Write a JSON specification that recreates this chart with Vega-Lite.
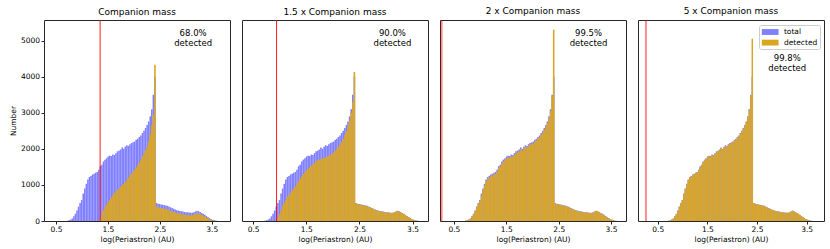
{
"$schema": "https://vega.github.io/schema/vega-lite/v6.json",
"autosize": {"type": "pad"},
"padding": {"left": 8, "top": 6, "right": 5, "bottom": 5},
"background": "white",
"bounds": "flush",
"spacing": 12,
"resolve": {"scale": {"color": "independent"}, "legend": {"color": "independent"}},
"config": {
  "font": "DejaVu Sans",
  "view": {"stroke": "#262626", "strokeWidth": 1},
  "axis": {"labelFont": "DejaVu Sans", "labelFontSize": 7.5, "labelColor": "#000", "titleFont": "DejaVu Sans", "titleFontSize": 7.5, "titleFontWeight": "normal", "titleColor": "#000", "domain": false, "grid": false, "tickColor": "#262626", "tickSize": 3, "labelPadding": 1.5},
  "title": {"font": "DejaVu Sans", "fontSize": 9, "fontWeight": "normal", "color": "#000", "offset": 3},
  "legend": {"labelFont": "DejaVu Sans", "labelFontSize": 7.5, "labelColor": "#000"}
},
"datasets": {"hist": [
{"x0":0.71,"x1":0.74,"total":10,"d1":0,"d2":0,"d3":8,"d4":10},
{"x0":0.74,"x1":0.77,"total":20,"d1":0,"d2":0,"d3":18,"d4":20},
{"x0":0.77,"x1":0.80,"total":40,"d1":0,"d2":0,"d3":36,"d4":39},
{"x0":0.80,"x1":0.83,"total":70,"d1":0,"d2":0,"d3":64,"d4":69},
{"x0":0.83,"x1":0.86,"total":130,"d1":0,"d2":0,"d3":120,"d4":128},
{"x0":0.86,"x1":0.89,"total":200,"d1":0,"d2":0,"d3":185,"d4":197},
{"x0":0.89,"x1":0.92,"total":290,"d1":0,"d2":0,"d3":270,"d4":286},
{"x0":0.92,"x1":0.95,"total":400,"d1":0,"d2":0,"d3":375,"d4":395},
{"x0":0.95,"x1":0.98,"total":500,"d1":0,"d2":60,"d3":470,"d4":494},
{"x0":0.98,"x1":1.01,"total":580,"d1":0,"d2":180,"d3":550,"d4":573},
{"x0":1.01,"x1":1.04,"total":760,"d1":0,"d2":300,"d3":720,"d4":750},
{"x0":1.04,"x1":1.07,"total":900,"d1":0,"d2":420,"d3":860,"d4":890},
{"x0":1.07,"x1":1.10,"total":1030,"d1":0,"d2":500,"d3":980,"d4":1018},
{"x0":1.10,"x1":1.13,"total":1150,"d1":0,"d2":580,"d3":1100,"d4":1137},
{"x0":1.13,"x1":1.16,"total":1220,"d1":0,"d2":680,"d3":1170,"d4":1206},
{"x0":1.16,"x1":1.19,"total":1250,"d1":0,"d2":720,"d3":1200,"d4":1236},
{"x0":1.19,"x1":1.22,"total":1290,"d1":0,"d2":780,"d3":1240,"d4":1276},
{"x0":1.22,"x1":1.25,"total":1310,"d1":0,"d2":850,"d3":1260,"d4":1296},
{"x0":1.25,"x1":1.28,"total":1340,"d1":0,"d2":900,"d3":1290,"d4":1326},
{"x0":1.28,"x1":1.31,"total":1360,"d1":0,"d2":960,"d3":1310,"d4":1346},
{"x0":1.31,"x1":1.34,"total":1420,"d1":0,"d2":1040,"d3":1370,"d4":1405},
{"x0":1.34,"x1":1.37,"total":1520,"d1":40,"d2":1100,"d3":1470,"d4":1504},
{"x0":1.37,"x1":1.40,"total":1560,"d1":150,"d2":1170,"d3":1510,"d4":1544},
{"x0":1.40,"x1":1.43,"total":1650,"d1":300,"d2":1230,"d3":1600,"d4":1633},
{"x0":1.43,"x1":1.46,"total":1700,"d1":380,"d2":1300,"d3":1650,"d4":1683},
{"x0":1.46,"x1":1.49,"total":1740,"d1":450,"d2":1360,"d3":1690,"d4":1722},
{"x0":1.49,"x1":1.52,"total":1790,"d1":520,"d2":1400,"d3":1740,"d4":1772},
{"x0":1.52,"x1":1.55,"total":1810,"d1":580,"d2":1450,"d3":1760,"d4":1792},
{"x0":1.55,"x1":1.58,"total":1800,"d1":650,"d2":1490,"d3":1750,"d4":1782},
{"x0":1.58,"x1":1.61,"total":1840,"d1":720,"d2":1540,"d3":1790,"d4":1822},
{"x0":1.61,"x1":1.64,"total":1830,"d1":770,"d2":1570,"d3":1780,"d4":1812},
{"x0":1.64,"x1":1.67,"total":1880,"d1":820,"d2":1610,"d3":1830,"d4":1862},
{"x0":1.67,"x1":1.70,"total":1930,"d1":870,"d2":1660,"d3":1880,"d4":1911},
{"x0":1.70,"x1":1.73,"total":1950,"d1":900,"d2":1680,"d3":1900,"d4":1931},
{"x0":1.73,"x1":1.76,"total":1980,"d1":950,"d2":1700,"d3":1930,"d4":1961},
{"x0":1.76,"x1":1.79,"total":2040,"d1":990,"d2":1720,"d3":1990,"d4":2020},
{"x0":1.79,"x1":1.82,"total":2000,"d1":1030,"d2":1730,"d3":1950,"d4":1980},
{"x0":1.82,"x1":1.85,"total":2060,"d1":1080,"d2":1740,"d3":2010,"d4":2040},
{"x0":1.85,"x1":1.88,"total":2100,"d1":1140,"d2":1760,"d3":2050,"d4":2080},
{"x0":1.88,"x1":1.91,"total":2080,"d1":1200,"d2":1790,"d3":2030,"d4":2060},
{"x0":1.91,"x1":1.94,"total":2130,"d1":1260,"d2":1810,"d3":2080,"d4":2110},
{"x0":1.94,"x1":1.97,"total":2160,"d1":1320,"d2":1830,"d3":2110,"d4":2140},
{"x0":1.97,"x1":2.00,"total":2180,"d1":1380,"d2":1860,"d3":2130,"d4":2160},
{"x0":2.00,"x1":2.03,"total":2200,"d1":1420,"d2":1900,"d3":2150,"d4":2180},
{"x0":2.03,"x1":2.06,"total":2250,"d1":1480,"d2":1950,"d3":2200,"d4":2230},
{"x0":2.06,"x1":2.09,"total":2280,"d1":1550,"d2":2000,"d3":2230,"d4":2260},
{"x0":2.09,"x1":2.12,"total":2330,"d1":1620,"d2":2060,"d3":2280,"d4":2310},
{"x0":2.12,"x1":2.15,"total":2370,"d1":1700,"d2":2120,"d3":2320,"d4":2350},
{"x0":2.15,"x1":2.18,"total":2440,"d1":1800,"d2":2190,"d3":2390,"d4":2420},
{"x0":2.18,"x1":2.21,"total":2500,"d1":1880,"d2":2270,"d3":2450,"d4":2480},
{"x0":2.21,"x1":2.24,"total":2580,"d1":1960,"d2":2380,"d3":2530,"d4":2560},
{"x0":2.24,"x1":2.27,"total":2660,"d1":2060,"d2":2480,"d3":2610,"d4":2640},
{"x0":2.27,"x1":2.30,"total":2760,"d1":2200,"d2":2620,"d3":2710,"d4":2740},
{"x0":2.30,"x1":2.33,"total":2900,"d1":2400,"d2":2780,"d3":2850,"d4":2880},
{"x0":2.33,"x1":2.36,"total":3100,"d1":2650,"d2":3000,"d3":3050,"d4":3080},
{"x0":2.36,"x1":2.39,"total":3500,"d1":2950,"d2":3300,"d3":3450,"d4":3480},
{"x0":2.39,"x1":2.42,"total":4000,"d1":4330,"d2":4130,"d3":5300,"d4":5050},
{"x0":2.42,"x1":2.45,"total":500,"d1":400,"d2":490,"d3":490,"d4":495},
{"x0":2.45,"x1":2.48,"total":480,"d1":380,"d2":470,"d3":470,"d4":476},
{"x0":2.48,"x1":2.51,"total":470,"d1":370,"d2":460,"d3":460,"d4":466},
{"x0":2.51,"x1":2.54,"total":460,"d1":360,"d2":450,"d3":450,"d4":456},
{"x0":2.54,"x1":2.57,"total":450,"d1":350,"d2":440,"d3":440,"d4":446},
{"x0":2.57,"x1":2.60,"total":440,"d1":340,"d2":430,"d3":430,"d4":436},
{"x0":2.60,"x1":2.63,"total":430,"d1":330,"d2":420,"d3":420,"d4":426},
{"x0":2.63,"x1":2.66,"total":420,"d1":320,"d2":410,"d3":410,"d4":416},
{"x0":2.66,"x1":2.69,"total":400,"d1":300,"d2":390,"d3":390,"d4":396},
{"x0":2.69,"x1":2.72,"total":380,"d1":280,"d2":370,"d3":370,"d4":376},
{"x0":2.72,"x1":2.75,"total":360,"d1":265,"d2":350,"d3":350,"d4":356},
{"x0":2.75,"x1":2.78,"total":340,"d1":250,"d2":330,"d3":330,"d4":336},
{"x0":2.78,"x1":2.81,"total":320,"d1":235,"d2":310,"d3":310,"d4":316},
{"x0":2.81,"x1":2.84,"total":300,"d1":220,"d2":290,"d3":290,"d4":296},
{"x0":2.84,"x1":2.87,"total":290,"d1":210,"d2":280,"d3":280,"d4":286},
{"x0":2.87,"x1":2.90,"total":280,"d1":200,"d2":270,"d3":270,"d4":276},
{"x0":2.90,"x1":2.93,"total":270,"d1":190,"d2":260,"d3":260,"d4":266},
{"x0":2.93,"x1":2.96,"total":260,"d1":180,"d2":250,"d3":250,"d4":256},
{"x0":2.96,"x1":2.99,"total":250,"d1":170,"d2":240,"d3":240,"d4":246},
{"x0":2.99,"x1":3.02,"total":240,"d1":165,"d2":232,"d3":232,"d4":237},
{"x0":3.02,"x1":3.05,"total":240,"d1":160,"d2":232,"d3":232,"d4":237},
{"x0":3.05,"x1":3.08,"total":235,"d1":160,"d2":228,"d3":228,"d4":232},
{"x0":3.08,"x1":3.11,"total":230,"d1":155,"d2":222,"d3":222,"d4":227},
{"x0":3.11,"x1":3.14,"total":230,"d1":160,"d2":222,"d3":222,"d4":227},
{"x0":3.14,"x1":3.17,"total":240,"d1":170,"d2":232,"d3":232,"d4":237},
{"x0":3.17,"x1":3.20,"total":265,"d1":200,"d2":258,"d3":258,"d4":262},
{"x0":3.20,"x1":3.23,"total":285,"d1":225,"d2":278,"d3":278,"d4":282},
{"x0":3.23,"x1":3.26,"total":270,"d1":210,"d2":262,"d3":262,"d4":267},
{"x0":3.26,"x1":3.29,"total":250,"d1":190,"d2":242,"d3":242,"d4":247},
{"x0":3.29,"x1":3.32,"total":220,"d1":170,"d2":212,"d3":212,"d4":217},
{"x0":3.32,"x1":3.35,"total":200,"d1":150,"d2":192,"d3":192,"d4":197},
{"x0":3.35,"x1":3.38,"total":170,"d1":125,"d2":162,"d3":162,"d4":167},
{"x0":3.38,"x1":3.41,"total":140,"d1":100,"d2":132,"d3":132,"d4":137},
{"x0":3.41,"x1":3.44,"total":110,"d1":80,"d2":104,"d3":104,"d4":108},
{"x0":3.44,"x1":3.47,"total":80,"d1":55,"d2":75,"d3":75,"d4":78},
{"x0":3.47,"x1":3.50,"total":55,"d1":35,"d2":50,"d3":50,"d4":53},
{"x0":3.50,"x1":3.53,"total":35,"d1":20,"d2":32,"d3":32,"d4":34},
{"x0":3.53,"x1":3.56,"total":20,"d1":10,"d2":18,"d3":18,"d4":19},
{"x0":3.56,"x1":3.59,"total":10,"d1":4,"d2":8,"d3":8,"d4":9},
{"x0":3.59,"x1":3.62,"total":4,"d1":0,"d2":3,"d3":3,"d4":3}
]},
"hconcat": [
{
  "width": 186, "height": 201,
  "title": "Companion mass",
  "layer": [
    {"data": {"name": "hist"}, "mark": {"type": "bar", "color": "#8080ff", "clip": true},
     "encoding": {
       "x": {"field": "x0", "type": "quantitative", "scale": {"domain": [0.27, 3.85], "nice": false, "zero": false}, "axis": {"values": [0.5,1,1.5,2,2.5,3,3.5], "format": ".1f", "title": "log(Periastron) (AU)", "titlePadding": 2}},
       "x2": {"field": "x1"},
       "y": {"field": "total", "type": "quantitative", "scale": {"domain": [0, 5570], "nice": false}, "axis": {"values": [0,1000,2000,3000,4000,5000], "format": "d", "title": "Number", "titlePadding": 3}},
       "y2": {"datum": 0}}},
    {"data": {"name": "hist"}, "mark": {"type": "bar", "color": "#DAA520", "clip": true},
     "encoding": {
       "x": {"field": "x0", "type": "quantitative"},
       "x2": {"field": "x1"},
       "y": {"field": "d1", "type": "quantitative"},
       "y2": {"datum": 0}}},
    {"data": {"values": [{"cut": 1.35}]}, "mark": {"type": "rule", "color": "#ff0000", "strokeWidth": 0.9},
     "encoding": {"x": {"field": "cut", "type": "quantitative"}}},
    {"data": {"values": [{"label": ["68.0%", "detected"]}]}, "mark": {"type": "text", "fontSize": 8.5, "align": "center", "baseline": "middle", "lineHeight": 10, "font": "DejaVu Sans"},
     "encoding": {"x": {"datum": 3.14, "type": "quantitative"}, "y": {"datum": 5200, "type": "quantitative"}, "text": {"field": "label"}}}
  ]
},
{
  "width": 186, "height": 201,
  "title": "1.5 x Companion mass",
  "layer": [
    {"data": {"name": "hist"}, "mark": {"type": "bar", "color": "#8080ff", "clip": true},
     "encoding": {
       "x": {"field": "x0", "type": "quantitative", "scale": {"domain": [0.29, 3.79], "nice": false, "zero": false}, "axis": {"values": [0.5,1,1.5,2,2.5,3,3.5], "format": ".1f", "title": "log(Periastron) (AU)", "titlePadding": 2}},
       "x2": {"field": "x1"},
       "y": {"field": "total", "type": "quantitative", "scale": {"domain": [0, 5570], "nice": false}, "axis": null},
       "y2": {"datum": 0}}},
    {"data": {"name": "hist"}, "mark": {"type": "bar", "color": "#DAA520", "clip": true},
     "encoding": {
       "x": {"field": "x0", "type": "quantitative"},
       "x2": {"field": "x1"},
       "y": {"field": "d2", "type": "quantitative"},
       "y2": {"datum": 0}}},
    {"data": {"values": [{"cut": 0.94}]}, "mark": {"type": "rule", "color": "#ff0000", "strokeWidth": 0.9},
     "encoding": {"x": {"field": "cut", "type": "quantitative"}}},
    {"data": {"values": [{"label": ["90.0%", "detected"]}]}, "mark": {"type": "text", "fontSize": 8.5, "align": "center", "baseline": "middle", "lineHeight": 10, "font": "DejaVu Sans"},
     "encoding": {"x": {"datum": 3.12, "type": "quantitative"}, "y": {"datum": 5200, "type": "quantitative"}, "text": {"field": "label"}}}
  ]
},
{
  "width": 186, "height": 201,
  "title": "2 x Companion mass",
  "layer": [
    {"data": {"name": "hist"}, "mark": {"type": "bar", "color": "#8080ff", "clip": true},
     "encoding": {
       "x": {"field": "x0", "type": "quantitative", "scale": {"domain": [0.234, 3.785], "nice": false, "zero": false}, "axis": {"values": [0.5,1,1.5,2,2.5,3,3.5], "format": ".1f", "title": "log(Periastron) (AU)", "titlePadding": 2}},
       "x2": {"field": "x1"},
       "y": {"field": "total", "type": "quantitative", "scale": {"domain": [0, 5570], "nice": false}, "axis": null},
       "y2": {"datum": 0}}},
    {"data": {"name": "hist"}, "mark": {"type": "bar", "color": "#DAA520", "clip": true},
     "encoding": {
       "x": {"field": "x0", "type": "quantitative"},
       "x2": {"field": "x1"},
       "y": {"field": "d3", "type": "quantitative"},
       "y2": {"datum": 0}}},
    {"data": {"values": [{"cut": 0.265}]}, "mark": {"type": "rule", "color": "#ff0000", "strokeWidth": 2, "opacity": 0.45},
     "encoding": {"x": {"field": "cut", "type": "quantitative"}}},
    {"data": {"values": [{"label": ["99.5%", "detected"]}]}, "mark": {"type": "text", "fontSize": 8.5, "align": "center", "baseline": "middle", "lineHeight": 10, "font": "DejaVu Sans"},
     "encoding": {"x": {"datum": 3.07, "type": "quantitative"}, "y": {"datum": 5200, "type": "quantitative"}, "text": {"field": "label"}}}
  ]
},
{
  "width": 186, "height": 201,
  "title": "5 x Companion mass",
  "layer": [
    {"data": {"name": "hist"}, "mark": {"type": "bar", "clip": true},
     "encoding": {
       "x": {"field": "x0", "type": "quantitative", "scale": {"domain": [0.102, 3.85], "nice": false, "zero": false}, "axis": {"values": [0.5,1,1.5,2,2.5,3,3.5], "format": ".1f", "title": "log(Periastron) (AU)", "titlePadding": 2}},
       "x2": {"field": "x1"},
       "y": {"field": "total", "type": "quantitative", "scale": {"domain": [0, 5570], "nice": false}, "axis": null},
       "y2": {"datum": 0},
       "color": {"datum": "total", "type": "nominal", "scale": {"domain": ["total", "detected"], "range": ["#8080ff", "#DAA520"]},
                 "legend": {"title": null, "orient": "top-right", "offset": 4.5, "fillColor": "white", "strokeColor": "#cccccc", "cornerRadius": 2, "padding": 2.5, "rowPadding": 2.6, "symbolType": "M-1,-0.7H3V0.7H-1Z", "symbolSize": 70, "symbolStrokeWidth": 0, "labelOffset": 13.4, "labelFontSize": 7.5}}}},
    {"data": {"name": "hist"}, "mark": {"type": "bar", "clip": true},
     "encoding": {
       "x": {"field": "x0", "type": "quantitative"},
       "x2": {"field": "x1"},
       "y": {"field": "d4", "type": "quantitative"},
       "y2": {"datum": 0},
       "color": {"datum": "detected", "type": "nominal"}}},
    {"data": {"values": [{"cut": 0.262}]}, "mark": {"type": "rule", "color": "#ff0000", "strokeWidth": 2, "opacity": 0.45},
     "encoding": {"x": {"field": "cut", "type": "quantitative"}}},
    {"data": {"values": [{"label": ["99.8%", "detected"]}]}, "mark": {"type": "text", "fontSize": 8.5, "align": "center", "baseline": "middle", "lineHeight": 10, "font": "DejaVu Sans"},
     "encoding": {"x": {"datum": 3.11, "type": "quantitative"}, "y": {"datum": 4520, "type": "quantitative"}, "text": {"field": "label"}}}
  ]
}
]
}
